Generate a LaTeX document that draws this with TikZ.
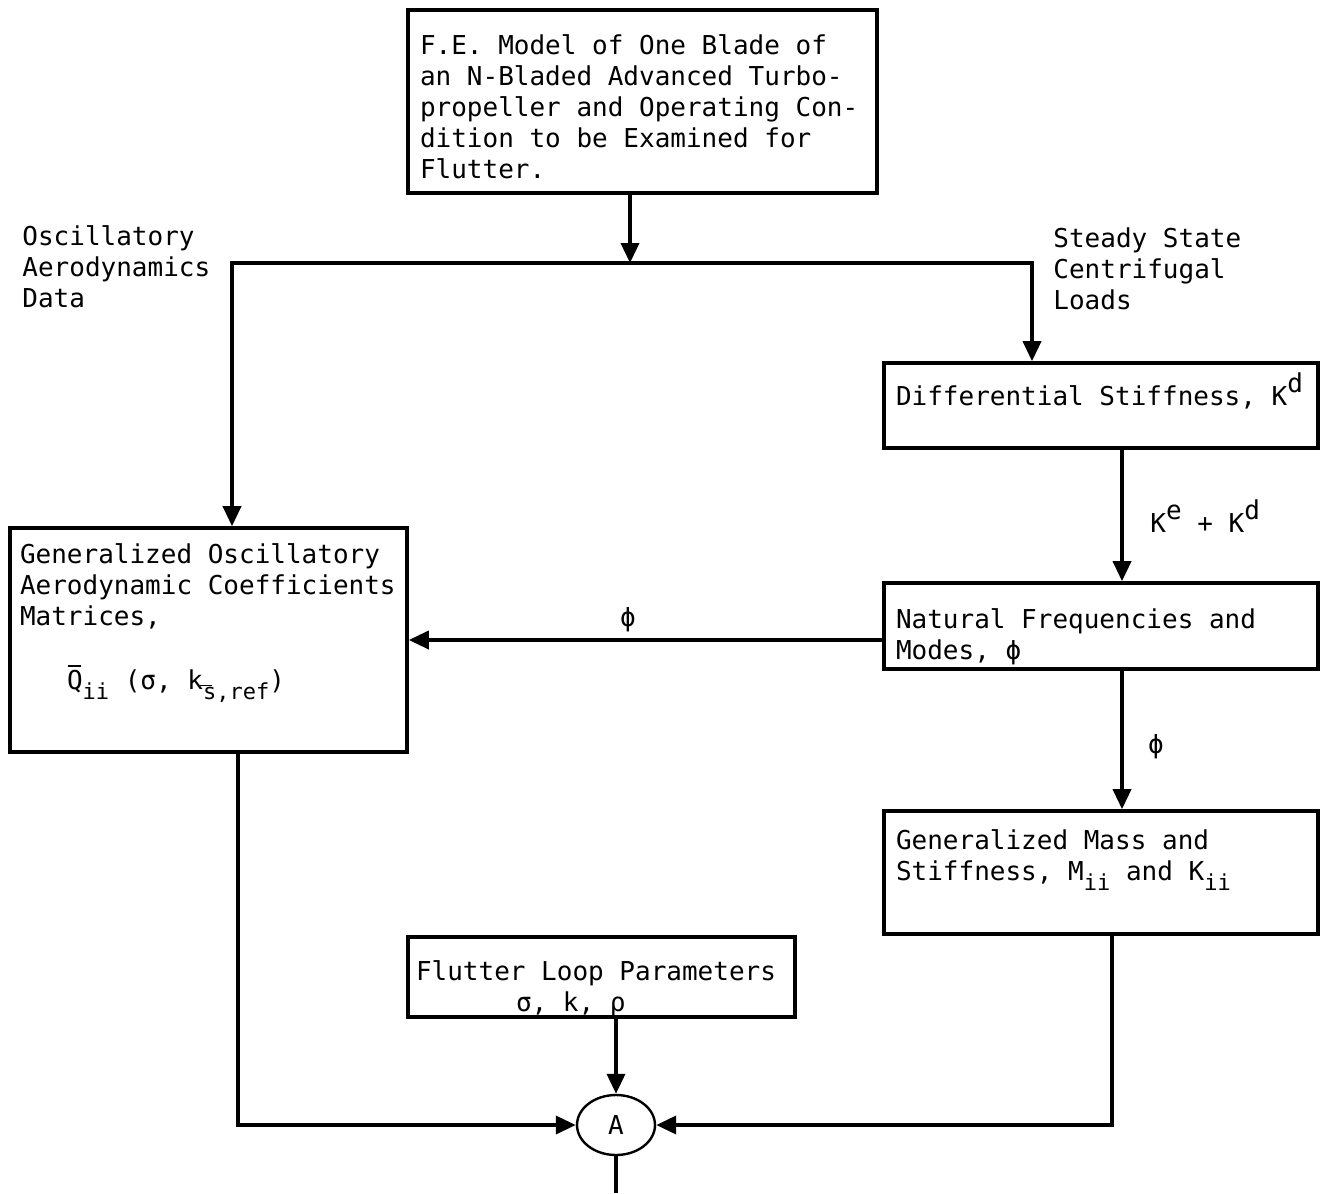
\documentclass[tikz,border=0pt]{standalone}
\usepackage{fontspec}
\setmainfont{DejaVu Sans Mono}
\usetikzlibrary{arrows.meta,shapes.geometric}
\newcommand\sub[1]{\raisebox{-0.42em}{\fontsize{11}{11}\selectfont #1}}
\newcommand\sups[1]{\raisebox{0.5em}{#1}}
\newcommand\barQ{\rlap{\kern0.05em\rule[0.85em]{0.5em}{0.07em}}Q}
\newcommand\sref{\raisebox{-0.42em}{\fontsize{11}{11}\selectfont\rlap{\kern-0.15em\rule[0.62em]{0.55em}{0.07em}}s,ref}}
\newcommand\bx[4]{\parbox[c][#1][t]{#2}{\raggedright\rule{0pt}{#3}#4}}
\begin{document}
\begin{tikzpicture}[x=0.5pt,y=-0.5pt,
  font=\fontsize{13}{15.5}\selectfont,
  box/.style={draw, rectangle, line width=1.8pt, inner sep=0pt},
  line/.style={line width=1.8pt},
  arr/.style={line width=1.8pt, -{Triangle[length=10pt,width=9pt]}},
  lbl/.style={anchor=base west, inner sep=0pt}]
\useasboundingbox (0,0) rectangle (1320,1193);

% boxes
\node[box, minimum width=234.5pt, minimum height=91.5pt] (top) at (642.5,101.5)
  {\bx{91.5pt}{222.5pt}{22.5pt}{F.E. Model of One Blade of\\an N-Bladed Advanced Turbo-\\propeller and Operating Con-\\dition to be Examined for\\Flutter.}};
\node[box, minimum width=198.5pt, minimum height=112pt] (gen) at (208.5,640)
  {\bx{112pt}{188.5pt}{17.5pt}{Generalized Oscillatory\\Aerodynamic~Coefficients\\Matrices,\\[16.5pt]\hspace*{23.5pt}\barQ\sub{ii} (σ, k\sref)}};
\node[box, minimum width=217pt, minimum height=42.5pt] (diff) at (1101,405.5)
  {\bx{42.5pt}{205pt}{21pt}{Differential Stiffness, K\sups{d}}};
\node[box, minimum width=217pt, minimum height=43pt] (nat) at (1101,626)
  {\bx{43pt}{205pt}{22.5pt}{Natural Frequencies and\\Modes, ϕ}};
\node[box, minimum width=217pt, minimum height=61.5pt] (gm) at (1101,872.5)
  {\bx{61.5pt}{205pt}{19pt}{Generalized Mass and\\Stiffness, M\sub{ii} and K\sub{ii}}};
\node[box, minimum width=193.5pt, minimum height=40pt] (fl) at (601.5,977)
  {\bx{40pt}{185.5pt}{21.5pt}{Flutter Loop Parameters\\\hspace*{50pt}σ, k, ρ}};
\node[draw, ellipse, line width=1.2pt, minimum width=39pt, minimum height=30pt, inner sep=0pt] (A) at (616,1125) {A};

% labels
\node[lbl] (oad) at (22,245) {\parbox[t]{110pt}{\fontsize{13}{15.5}\selectfont Oscillatory\\Aerodynamics\\Data}};
\node[lbl] (scl) at (1053,247) {\parbox[t]{110pt}{\fontsize{13}{15.5}\selectfont Steady State\\Centrifugal\\Loads}};
\node[lbl] (kek) at (1150,532) {K\sups{e} + K\sups{d}};
\node (phia) at (628,620) {ϕ};
\node (phib) at (1156,747) {ϕ};

% junction coordinates
\coordinate (jt) at (630,263);
\coordinate (jl) at (232,263);
\coordinate (jr) at (1032,263);
\coordinate (cr) at (1122,0);
\coordinate (hy) at (0,640);
\coordinate (bl) at (238,0);
\coordinate (br) at (1112,0);
\coordinate (endA) at (616,1193);

% connectors
\draw[arr] (top.south -| jt) -- (jt);
\draw[arr] (jt) -- (jl) -- (gen.north -| jl);
\draw[arr] (jt) -- (jr) -- (diff.north -| jr);
\draw[arr] (diff.south -| cr) -- (nat.north -| cr);
\draw[arr] (nat.south -| cr) -- (gm.north -| cr);
\draw[arr] (nat.west |- hy) -- (gen.east |- hy);
\draw[arr] (gen.south -| bl) |- (A.west);
\draw[arr] (gm.south -| br) |- (A.east);
\draw[arr] (fl.south -| A.north) -- (A.north);
\draw[line] (A.south) -- (endA);
\end{tikzpicture}
\end{document}
